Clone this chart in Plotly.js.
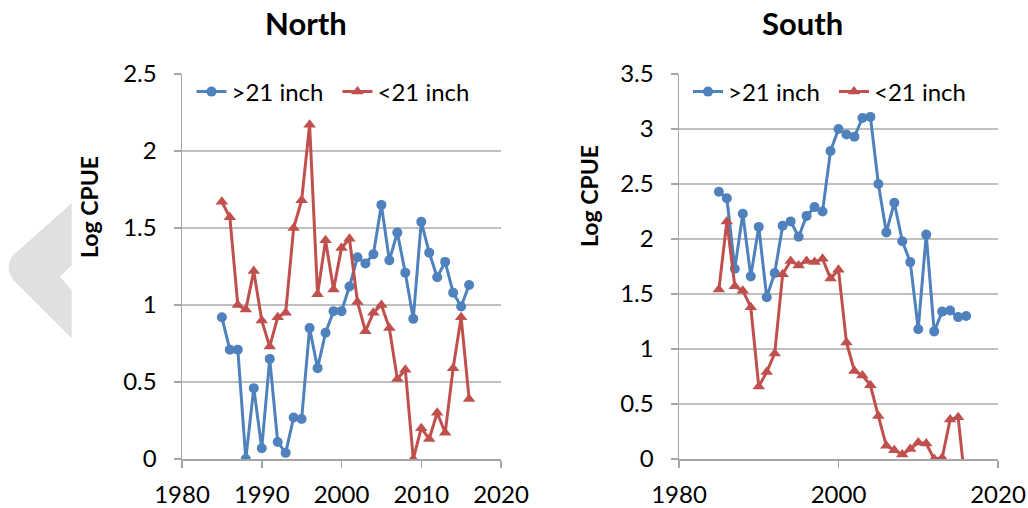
<!DOCTYPE html>
<html>
<head>
<meta charset="utf-8">
<script src="https://cdn.plot.ly/plotly-3.0.1.min.js"></script>
<style>
  html, body { margin: 0; padding: 0; background: #ffffff; }
  #chart { width: 1028px; height: 508px; }
</style>
</head>
<body>
<div id="chart"></div>
<script>
// ---- Data ----
const years = [1985, 1986, 1987, 1988, 1989, 1990, 1991, 1992, 1993, 1994, 1995, 1996, 1997, 1998, 1999,
               2000, 2001, 2002, 2003, 2004, 2005, 2006, 2007, 2008, 2009, 2010, 2011, 2012, 2013, 2014, 2015, 2016];

const northLarge = [0.92, 0.71, 0.71, 0.00, 0.46, 0.07, 0.65, 0.11, 0.04, 0.27, 0.26, 0.85, 0.59, 0.82, 0.96,
                    0.96, 1.12, 1.31, 1.27, 1.33, 1.65, 1.29, 1.47, 1.21, 0.91, 1.54, 1.34, 1.18, 1.28, 1.08, 0.99, 1.13];
const northSmall = [1.67, 1.57, 1.00, 0.97, 1.22, 0.90, 0.73, 0.92, 0.95, 1.50, 1.68, 2.17, 1.07, 1.42, 1.10,
                    1.37, 1.43, 1.02, 0.83, 0.95, 1.00, 0.85, 0.52, 0.58, 0.00, 0.20, 0.13, 0.30, 0.17, 0.59, 0.92, 0.39];

const southLarge = [2.43, 2.37, 1.73, 2.23, 1.66, 2.11, 1.47, 1.69, 2.12, 2.16, 2.02, 2.21, 2.29, 2.25, 2.80,
                    3.00, 2.95, 2.93, 3.10, 3.11, 2.50, 2.06, 2.33, 1.98, 1.79, 1.18, 2.04, 1.16, 1.34, 1.35, 1.29, 1.30];
const southSmall = [1.54, 2.16, 1.57, 1.53, 1.38, 0.66, 0.79, 0.96, 1.68, 1.80, 1.76, 1.80, 1.79, 1.82, 1.64,
                    1.72, 1.06, 0.80, 0.76, 0.67, 0.39, 0.12, 0.08, 0.04, 0.09, 0.15, 0.14, 0.00, 0.01, 0.36, 0.38, -0.30];

const seriesNames = ['>21 inch', '<21 inch'];
const panelTitles = ['North', 'South'];
const yTitle = 'Log CPUE';
const xRange = [1980, 2020];
const northRange = [0, 2.5];
const southRange = [0, 3.5];
const northXStep = 10;
const southXStep = 20;

// ---- Styling ----
const W = 1028, H = 508;
const BLUE = '#4F81BD', RED = '#C0504D';
const FONT = 'Lato, "Open Sans", sans-serif';
const px = x => x / W;
const py = y => 1 - y / H;

function largeTrace(y, xa, ya, legend) {
  return { x: years, y: y, xaxis: xa, yaxis: ya, legend: legend, name: seriesNames[0],
    type: 'scatter', mode: 'lines+markers',
    line: { color: BLUE, width: 3 },
    marker: { symbol: 'circle', size: 10, color: BLUE } };
}
function smallTrace(y, xa, ya, legend) {
  return { x: years, y: y, xaxis: xa, yaxis: ya, legend: legend, name: seriesNames[1],
    type: 'scatter', mode: 'lines+markers',
    line: { color: RED, width: 3 },
    marker: { symbol: 'triangle-up', size: 11, color: RED } };
}

const data = [
  largeTrace(northLarge, 'x', 'y', 'legend'),
  smallTrace(northSmall, 'x', 'y', 'legend'),
  largeTrace(southLarge, 'x2', 'y2', 'legend2'),
  smallTrace(southSmall, 'x2', 'y2', 'legend2')
];

const GRID = '#bfbfbf', AXL = '#a6a6a6';
const tickFont = { family: FONT, size: 24, color: '#000' };

function xAxis(domain, yref, step) {
  return { domain: domain, range: xRange, dtick: step, tick0: 1980, anchor: yref,
    showgrid: false, zeroline: false, showline: true, linecolor: AXL, linewidth: 1.5,
    ticks: 'outside', ticklen: 7, tickwidth: 1.5, tickcolor: AXL,
    tickfont: tickFont, ticklabelstandoff: 7, fixedrange: true };
}
function yAxis(domain, range, xref) {
  return { domain: domain, range: range, dtick: 0.5, tick0: 0, anchor: xref,
    showgrid: true, gridcolor: GRID, gridwidth: 1.5, zeroline: false,
    showline: true, linecolor: AXL, linewidth: 1.5,
    ticks: 'outside', ticklen: 7, tickwidth: 1.5, tickcolor: AXL,
    tickfont: tickFont, ticklabelstandoff: 12, fixedrange: true };
}

const yDom = [py(459), py(74)];

const legendBase = { orientation: 'h', xanchor: 'left', yanchor: 'middle',
  font: { family: FONT, size: 24, color: '#000' }, bgcolor: 'rgba(0,0,0,0)',
  borderwidth: 0, entrywidth: 101, entrywidthmode: 'pixels',
  itemclick: false, itemdoubleclick: false };

// decorative grey chevron at the left edge (pixel outline converted to paper units)
const chevronPx = [[71.7, 203.3], [13.3, 255], [4, 266.7], [13.3, 280], [71.7, 338.3], [71.7, 290], [60, 276.7], [71.7, 265]];
const p = chevronPx.map(q => [px(q[0]).toFixed(5), py(q[1]).toFixed(5)]);
const chevronPath = `M${p[0][0]},${p[0][1]} L${p[1][0]},${p[1][1]} Q${p[2][0]},${p[2][1]} ${p[3][0]},${p[3][1]} ` +
  `L${p[4][0]},${p[4][1]} L${p[5][0]},${p[5][1]} L${p[6][0]},${p[6][1]} L${p[7][0]},${p[7][1]} Z`;

const layout = {
  width: W, height: H,
  margin: { l: 0, r: 0, t: 0, b: 0, pad: 0, autoexpand: false },
  paper_bgcolor: '#ffffff', plot_bgcolor: 'rgba(0,0,0,0)',
  font: { family: FONT, color: '#000' },
  showlegend: true,
  xaxis: xAxis([px(182), px(501)], 'y', northXStep),
  yaxis: yAxis(yDom, northRange, 'x'),
  xaxis2: xAxis([px(679), px(998)], 'y2', southXStep),
  yaxis2: yAxis(yDom, southRange, 'x2'),
  legend: Object.assign({}, legendBase, { x: px(191.5), y: py(92) }),
  legend2: Object.assign({}, legendBase, { x: px(688), y: py(92) }),
  shapes: [{ type: 'path', xref: 'paper', yref: 'paper', path: chevronPath,
             fillcolor: '#e0e0e0', line: { width: 0 }, layer: 'below' }],
  annotations: [
    { text: panelTitles[0], xref: 'paper', yref: 'paper', x: px(305.5), y: py(23), xanchor: 'center', yanchor: 'middle',
      showarrow: false, font: { family: FONT, size: 31, weight: 700, color: '#000' } },
    { text: panelTitles[1], xref: 'paper', yref: 'paper', x: px(802.5), y: py(23), xanchor: 'center', yanchor: 'middle',
      showarrow: false, font: { family: FONT, size: 31, weight: 700, color: '#000' } },
    { text: yTitle, xref: 'paper', yref: 'paper', x: px(89), y: py(207), xanchor: 'center', yanchor: 'middle',
      textangle: -90, showarrow: false, font: { family: FONT, size: 23, weight: 700, color: '#000' } },
    { text: yTitle, xref: 'paper', yref: 'paper', x: px(589), y: py(196), xanchor: 'center', yanchor: 'middle',
      textangle: -90, showarrow: false, font: { family: FONT, size: 23, weight: 700, color: '#000' } }
  ]
};

Plotly.newPlot('chart', data, layout, { staticPlot: true, displayModeBar: false });
</script>
</body>
</html>
